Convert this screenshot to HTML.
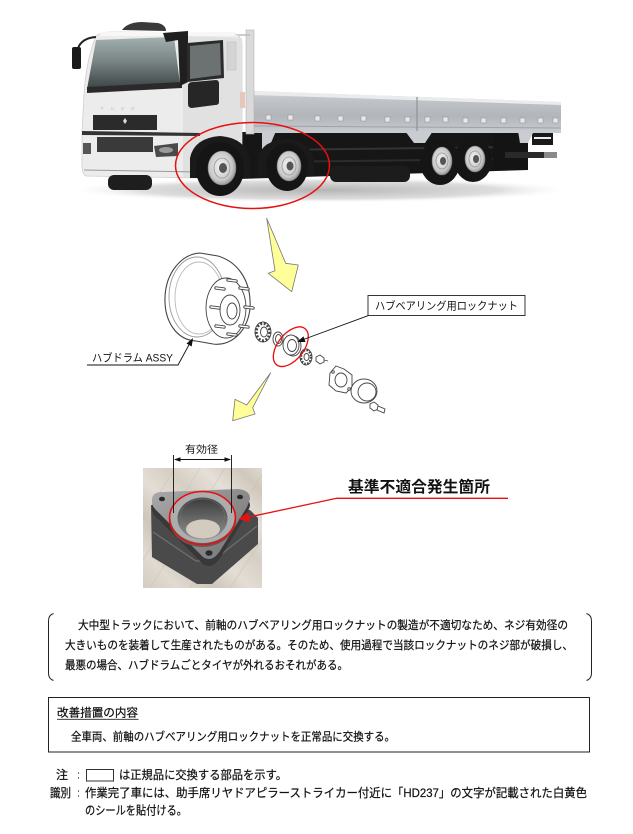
<!DOCTYPE html>
<html><head><meta charset="utf-8"><style>
html,body{margin:0;padding:0;background:#fff;}
svg{display:block;}
text{font-family:"Liberation Sans","Noto Sans CJK JP",sans-serif;fill:#111;}
.b{stroke:#111;stroke-width:0.22;}
</style></head><body>
<svg width="633" height="834" viewBox="0 0 633 834" xmlns="http://www.w3.org/2000/svg">
<defs>
<linearGradient id="ws" x1="0" y1="0" x2="0" y2="1"><stop offset="0" stop-color="#a3b0b0"/><stop offset="0.45" stop-color="#7a8686"/><stop offset="1" stop-color="#3c4344"/></linearGradient>
<linearGradient id="bed" x1="0" y1="0" x2="0" y2="1"><stop offset="0" stop-color="#dfe1e3"/><stop offset="0.15" stop-color="#c3c7cb"/><stop offset="0.6" stop-color="#b2b6ba"/><stop offset="1" stop-color="#c9ccd0"/></linearGradient>
<radialGradient id="rim" cx="0.45" cy="0.45" r="0.6"><stop offset="0" stop-color="#f4f4f4"/><stop offset="0.7" stop-color="#c8c8c8"/><stop offset="1" stop-color="#8a8a8a"/></radialGradient>
<radialGradient id="shd" cx="0.5" cy="0.5" r="0.5"><stop offset="0" stop-color="#b5b5b5"/><stop offset="0.7" stop-color="#dddddd"/><stop offset="1" stop-color="#ffffff" stop-opacity="0"/></radialGradient>
<linearGradient id="wood" x1="0" y1="1" x2="1" y2="0"><stop offset="0" stop-color="#d3ccc1"/><stop offset="0.15" stop-color="#e0dad1"/><stop offset="0.3" stop-color="#cec6ba"/><stop offset="0.45" stop-color="#e3ddd5"/><stop offset="0.6" stop-color="#d6cfc4"/><stop offset="0.75" stop-color="#e5e0d8"/><stop offset="0.9" stop-color="#d0c8bc"/><stop offset="1" stop-color="#dfd9cf"/></linearGradient>
<linearGradient id="plate" x1="0" y1="0" x2="1" y2="1"><stop offset="0" stop-color="#aaaaaa"/><stop offset="0.5" stop-color="#8c8c8c"/><stop offset="1" stop-color="#767676"/></linearGradient>
<linearGradient id="bore" x1="0" y1="0" x2="0" y2="1"><stop offset="0" stop-color="#3a3a3a"/><stop offset="0.6" stop-color="#707070"/><stop offset="1" stop-color="#929292"/></linearGradient>
</defs>
<rect width="633" height="834" fill="#fff"/>

<!-- ================= TRUCK ================= -->
<ellipse cx="320" cy="190" rx="255" ry="13" fill="url(#shd)"/>
<path d="M238,132 L528,132 L528,170 L238,179 Z" fill="#161616"/>
<path d="M262,150 L520,147" stroke="#333" stroke-width="2"/>
<path d="M262,162 L520,159" stroke="#2c2c2c" stroke-width="2"/>
<rect x="330" y="166" width="80" height="16" rx="6" fill="#1c1c1c"/>
<rect x="493" y="132" width="35" height="38" fill="#141414"/>
<rect x="505" y="152" width="52" height="6" fill="#2a2a2a"/>
<rect x="544" y="152" width="13" height="6" fill="#8a8a8a"/>
<rect x="532" y="131" width="21" height="14" fill="#1a1a1a"/>
<rect x="534" y="137" width="17" height="2" fill="#eee"/>
<path d="M254,91 L561,102 L561,133 L254,133 Z" fill="url(#bed)"/>
<path d="M254,91 L561,102 L561,105 L254,95 Z" fill="#e9ebed"/>
<path d="M254,126 L561,128" stroke="#9ea3a7" stroke-width="1"/>
<line x1="417" y1="97" x2="417" y2="133" stroke="#8e9398" stroke-width="1.2"/>
<path d="M405,131 L433,131 L425,143 L414,143 Z" fill="#c9ccd0"/>
<path d="M518,131 L534,131 L528,143 L520,143 Z" fill="#c9ccd0"/>
<path d="M262,131 L276,131 L268,150 L262,150 Z" fill="#c9ccd0"/>
<g fill="#e8e8e8" stroke="#999" stroke-width="0.6">
<rect x="266" y="115" width="5" height="5"/><rect x="288" y="115" width="5" height="5"/><rect x="315" y="116" width="5" height="5"/><rect x="338" y="116" width="5" height="5"/><rect x="361" y="116" width="5" height="5"/><rect x="385" y="117" width="5" height="5"/><rect x="405" y="117" width="5" height="5"/><rect x="425" y="117" width="5" height="5"/><rect x="443" y="117" width="5" height="5"/><rect x="463" y="118" width="5" height="5"/><rect x="481" y="118" width="5" height="5"/><rect x="501" y="118" width="5" height="5"/><rect x="520" y="118" width="5" height="5"/><rect x="538" y="118" width="5" height="5"/><rect x="553" y="118" width="5" height="5"/>
</g>
<rect x="246" y="30" width="8" height="104" fill="#dadada" stroke="#b5b5b5" stroke-width="0.6"/>
<line x1="232" y1="35" x2="250" y2="35" stroke="#bbb" stroke-width="1.5"/>
<path d="M96,36 Q100,32 112,32 L232,33 Q240,34 242,42 L242,176 L200,178 L86,176 Q82,174 82,165 L82,133 L84,95 Q86,60 96,36 Z" fill="#ececec" stroke="#cfcfcf" stroke-width="0.8"/>
<path d="M183,36 L242,38 L242,176 L200,178 L183,177 Z" fill="#e1e1e1"/>
<path d="M122,30 Q128,22 142,22 L158,23 Q166,25 166,31 Z" fill="#3a3a3a"/>
<rect x="100" y="32" width="135" height="4" fill="#f7f7f7"/>
<path d="M96,40 L174,37 L180,84 L87,89 Z" fill="url(#ws)"/>
<path d="M87,87 L182,82 L182,88 L87,93 Z" fill="#2a2a2a"/>
<path d="M163,33 L188,31 L188,82 L180,86 L178,40 L166,42 Z" fill="#1f1f1f"/>
<rect x="72" y="47" width="9" height="22" rx="2" fill="#1a1a1a"/>
<path d="M78,48 Q82,38 96,37" stroke="#222" stroke-width="2" fill="none"/>
<path d="M187,43 L223,40 L224,78 L187,82 Z" fill="#2b2b2b"/>
<path d="M190,46 L220,43 L221,75 L190,79 Z" fill="#6c7272"/>
<path d="M188,86 Q188,82 193,82 L216,80 Q219,80 219,84 L219,102 Q219,105 215,105 L192,108 Q188,108 188,104 Z" fill="#262626"/>
<rect x="227" y="42" width="9" height="28" fill="#d4d4d4" stroke="#bbb" stroke-width="0.5"/>
<rect x="240" y="92" width="5" height="16" fill="#e6c8bb"/>
<text x="101" y="110" font-size="4.5" style="fill:#bbb" letter-spacing="7">FUSO</text>
<rect x="93" y="115" width="64" height="15" fill="#2b2b2b"/>
<path d="M125,118 L127,121 L125,124 L123,121 Z" fill="#ddd"/>
<path d="M82,131 L200,133 L200,136 L82,135 Z" fill="#333"/>
<rect x="97" y="137" width="56" height="15" fill="#3a3a3a"/>
<path d="M154,146 L178,143 L178,156 L156,157 Z" fill="#4a4a4a"/>
<ellipse cx="166" cy="150" rx="7" ry="3" fill="#9a9a9a"/>
<rect x="83" y="143" width="8" height="11" fill="#555"/>
<path d="M84,170 L200,172" stroke="#999" stroke-width="1"/>
<rect x="108" y="175" width="44" height="15" rx="6" fill="#1e1e1e"/>
<path d="M190,178 L190,158 Q194,138 220,136 Q246,138 250,160 L250,178 Z" fill="#1a1a1a"/>
<path d="M258,178 L258,158 Q262,140 287,139 Q310,140 314,160 L314,176 Z" fill="#1a1a1a"/>
<g>
<ellipse cx="220" cy="169" rx="24" ry="27" fill="#151515"/>
<ellipse cx="222" cy="168" rx="14" ry="17" fill="url(#rim)" stroke="#777" stroke-width="0.6"/>
<ellipse cx="222" cy="168" rx="8" ry="10" fill="none" stroke="#999" stroke-width="0.8"/>
<ellipse cx="223" cy="168" rx="4" ry="5" fill="#555"/>
</g>
<g>
<ellipse cx="287" cy="167" rx="21" ry="24" fill="#151515"/>
<ellipse cx="289" cy="166" rx="12" ry="15" fill="url(#rim)" stroke="#777" stroke-width="0.6"/>
<ellipse cx="289" cy="166" rx="7" ry="9" fill="none" stroke="#999" stroke-width="0.8"/>
<ellipse cx="290" cy="166" rx="3.5" ry="4.5" fill="#555"/>
</g>
<g>
<ellipse cx="440" cy="162" rx="20" ry="23" fill="#151515"/>
<ellipse cx="442" cy="161" rx="10" ry="14" fill="url(#rim)" stroke="#777" stroke-width="0.6"/>
<ellipse cx="442" cy="161" rx="6" ry="8" fill="none" stroke="#999" stroke-width="0.8"/>
<ellipse cx="443" cy="161" rx="3" ry="4" fill="#555"/>
</g>
<g>
<ellipse cx="473" cy="160" rx="19" ry="22" fill="#151515"/>
<ellipse cx="475" cy="159" rx="10" ry="13" fill="url(#rim)" stroke="#777" stroke-width="0.6"/>
<ellipse cx="475" cy="159" rx="6" ry="8" fill="none" stroke="#999" stroke-width="0.8"/>
<ellipse cx="476" cy="159" rx="3" ry="4" fill="#555"/>
</g>
<ellipse cx="252.5" cy="165.5" rx="77" ry="43" fill="none" stroke="#e81010" stroke-width="1.5"/>

<!-- ================= ARROW 1 ================= -->
<polygon points="266.7,218.3 285.7,263.3 298.3,265 291.7,291.7 268.3,273.3 275,270.7" fill="#ffff99" stroke="#777" stroke-width="0.8" stroke-linejoin="round"/>

<!-- ================= HUB DRAWING ================= -->
<g stroke="#444" stroke-width="0.9" fill="#fff">
<path d="M200,253 C182,254 166,272 165,297 C164,322 177,340 196,341 L213,344 C235,347 252,325 250,300 C249,280 238,262 218,256 Z" stroke-width="1.1"/>
<ellipse cx="197" cy="297" rx="28" ry="40" fill="none" stroke="#999"/>
<ellipse cx="199" cy="298" rx="24" ry="36" fill="none" stroke="#bbb"/>
<ellipse cx="226" cy="308" rx="20" ry="30"/>
<ellipse cx="230" cy="310" rx="10" ry="15"/>
<ellipse cx="232" cy="311" rx="5" ry="8"/>
</g>
<g stroke-linecap="round">
<g stroke="#444" stroke-width="3.4">
<line x1="245" y1="307" x2="253" y2="308"/><line x1="240" y1="326" x2="248" y2="327"/><line x1="228" y1="334" x2="236" y2="335"/><line x1="216" y1="326" x2="224" y2="327"/><line x1="211" y1="307" x2="219" y2="308"/><line x1="216" y1="288" x2="224" y2="289"/><line x1="228" y1="280" x2="236" y2="281"/><line x1="240" y1="288" x2="248" y2="289"/>
</g>
<g stroke="#fff" stroke-width="1.6">
<line x1="245" y1="307" x2="253" y2="308"/><line x1="240" y1="326" x2="248" y2="327"/><line x1="228" y1="334" x2="236" y2="335"/><line x1="216" y1="326" x2="224" y2="327"/><line x1="211" y1="307" x2="219" y2="308"/><line x1="216" y1="288" x2="224" y2="289"/><line x1="228" y1="280" x2="236" y2="281"/><line x1="240" y1="288" x2="248" y2="289"/>
</g>
</g>
<g stroke="#444" stroke-width="0.9" fill="#fff">
<ellipse cx="263" cy="332" rx="8" ry="10"/>
<ellipse cx="263" cy="332" rx="6.5" ry="8.5" fill="none" stroke-width="2.6" stroke-dasharray="2 1.6"/>
<ellipse cx="264" cy="332" rx="3.5" ry="5"/>
<ellipse cx="278" cy="339" rx="5" ry="7"/>
<ellipse cx="278.5" cy="339" rx="3" ry="4.5"/>
<ellipse cx="293" cy="346" rx="8" ry="10"/>
<ellipse cx="291" cy="345" rx="8" ry="10"/>
<ellipse cx="292" cy="345.5" rx="4.5" ry="6"/>
<ellipse cx="306" cy="357" rx="6" ry="8"/>
<ellipse cx="306" cy="357" rx="5" ry="7" fill="none" stroke-width="2.4" stroke-dasharray="1.8 1.4"/>
<ellipse cx="306.5" cy="357" rx="2.5" ry="3.5"/>
<path d="M316,357 L320,355 L324,358 L324,362 L320,364 L316,361 Z"/>
<line x1="324" y1="360" x2="328" y2="361"/>
<path d="M330,373 L336,366 L344,369 L352,375 L352,387 L346,393 L336,391 L329,385 Z"/>
<ellipse cx="341" cy="380" rx="6" ry="7"/>
<circle cx="333" cy="372" r="1.3"/><circle cx="349" cy="389" r="1.3"/>
<ellipse cx="364" cy="391" rx="13" ry="12"/>
<ellipse cx="367" cy="392" rx="9" ry="9"/>
<path d="M370,404 L374,402 L378,405 L378,409 L374,411 L370,408 Z"/>
<path d="M378,406 L385,409 L384,413 L377,410 Z"/>
</g>
<ellipse cx="290.8" cy="346.7" rx="13" ry="23" transform="rotate(38 290.8 346.7)" fill="none" stroke="#e81010" stroke-width="1.3"/>
<rect x="368" y="295.5" width="157" height="20" fill="#fff" stroke="#222" stroke-width="0.9"/>
<text x="375" y="309.7" font-size="11" textLength="143" lengthAdjust="spacingAndGlyphs">ハブベアリング用ロックナット</text>
<line x1="368" y1="315.7" x2="302" y2="340" stroke="#111" stroke-width="0.9"/>
<polygon points="297,342 305.5,342 303.5,336.4" fill="#111"/>
<text x="92" y="361.7" font-size="11" textLength="81" lengthAdjust="spacingAndGlyphs">ハブドラム ASSY</text>
<polyline points="87,365 178,365 190,343" fill="none" stroke="#111" stroke-width="0.9"/>
<polygon points="193,338 191.7,346.5 186.5,343.5" fill="#111"/>

<!-- ================= ARROW 2 ================= -->
<polygon points="270.7,372.7 252.7,407.7 255,414 232.7,420.7 235,399.3 246.7,405" fill="#ffff99" stroke="#777" stroke-width="0.8" stroke-linejoin="round"/>

<!-- ================= PHOTO ================= -->
<rect x="143" y="468" width="119" height="120" fill="url(#wood)"/>
<g stroke="#c8bfb3" stroke-width="0.7" opacity="0.7">
<line x1="143" y1="560" x2="200" y2="468"/><line x1="150" y1="588" x2="225" y2="468"/><line x1="190" y1="588" x2="262" y2="475"/><line x1="230" y1="588" x2="262" y2="540"/><line x1="143" y1="520" x2="175" y2="468"/>
</g>
<polygon points="151,505 152,557 197,584 212,584 258,544 258,518 250,510" fill="#4a4a4a"/>
<path d="M153,532 L196,561 L213,561 L257,526" fill="none" stroke="#707070" stroke-width="1.2"/>
<path d="M152,507 Q152,499 162,499 L238,496 Q250,497 250,506 L247,514 L220,558 Q212,570 203,564 L158,519 Q151,513 152,507 Z" fill="#383838"/>
<path d="M152,500 Q152,492 162,492 L238,489 Q250,490 250,499 L247,507 L220,551 Q212,563 203,557 L158,512 Q151,506 152,500 Z" fill="url(#plate)"/>
<ellipse cx="162" cy="499" rx="3" ry="2.3" fill="#2a2a2a"/>
<ellipse cx="240" cy="497" rx="3" ry="2.3" fill="#2a2a2a"/>
<ellipse cx="209" cy="553" rx="3.5" ry="2.8" fill="#2a2a2a"/>
<ellipse cx="202.5" cy="521" rx="32.5" ry="26" fill="#5e5e5e"/>
<ellipse cx="202.5" cy="517.5" rx="32" ry="25.5" fill="#adadad"/>
<ellipse cx="202.5" cy="518.5" rx="25" ry="21" fill="url(#bore)"/>
<ellipse cx="202.5" cy="516" rx="22" ry="17" fill="none" stroke="#777" stroke-width="0.5"/>
<ellipse cx="202.5" cy="513" rx="22" ry="15" fill="none" stroke="#666" stroke-width="0.5"/>
<ellipse cx="203" cy="529" rx="17" ry="9.5" fill="#d3cbbf"/>
<ellipse cx="202.5" cy="518" rx="33" ry="26.5" fill="none" stroke="#e81010" stroke-width="1.6"/>
<line x1="173.5" y1="455" x2="173.5" y2="513" stroke="#111" stroke-width="0.9"/>
<line x1="231.5" y1="455" x2="231.5" y2="513" stroke="#111" stroke-width="0.9"/>
<line x1="175" y1="459.5" x2="230" y2="459.5" stroke="#111" stroke-width="0.9"/>
<polygon points="174,459.5 180.5,457.3 180.5,461.7" fill="#111"/>
<polygon points="231,459.5 224.5,457.3 224.5,461.7" fill="#111"/>
<text x="185" y="452.8" font-size="10" textLength="33" lengthAdjust="spacingAndGlyphs">有効径</text>
<text x="348" y="491.9" font-size="15.5" font-weight="bold" textLength="142" lengthAdjust="spacingAndGlyphs">基準不適合発生箇所</text>
<polyline points="508,498.3 336.7,498.3 248,517.2" fill="none" stroke="#e81010" stroke-width="1.3"/>
<polygon points="238.3,519.3 250.1,521.9 248.1,512.1" fill="#e81010"/>

<!-- ================= DESCRIPTION ================= -->
<path d="M53.5,613.5 Q48.5,615 48.5,621 L48.5,673 Q48.5,679 53.5,680.5" fill="none" stroke="#222" stroke-width="1"/>
<path d="M586.5,613.5 Q591.5,615 591.5,621 L591.5,673 Q591.5,679 586.5,680.5" fill="none" stroke="#222" stroke-width="1"/>
<text class="b" x="78" y="629" font-size="11.5" textLength="490" lengthAdjust="spacingAndGlyphs">大中型トラックにおいて、前軸のハブベアリング用ロックナットの製造が不適切なため、ネジ有効径の</text>
<text class="b" x="65" y="649" font-size="11.5" textLength="508" lengthAdjust="spacingAndGlyphs">大きいものを装着して生産されたものがある。そのため、使用過程で当該ロックナットのネジ部が破損し、</text>
<text class="b" x="65" y="669" font-size="11.5" textLength="283" lengthAdjust="spacingAndGlyphs">最悪の場合、ハブドラムごとタイヤが外れるおそれがある。</text>

<rect x="48.5" y="697.5" width="541" height="54.5" fill="none" stroke="#222" stroke-width="1"/>
<text class="b" x="57" y="716.5" font-size="11.5" textLength="81" lengthAdjust="spacingAndGlyphs">改善措置の内容</text>
<line x1="57" y1="719.3" x2="138.5" y2="719.3" stroke="#222" stroke-width="0.9"/>
<text class="b" x="71" y="740.5" font-size="11.5" textLength="324" lengthAdjust="spacingAndGlyphs">全車両、前軸のハブベアリング用ロックナットを正常品に交換する。</text>

<text class="b" x="56" y="779" font-size="12">注</text>
<text x="77" y="778.5" font-size="11">:</text>
<rect x="86.5" y="769.5" width="27" height="11.5" fill="none" stroke="#333" stroke-width="1"/>
<text class="b" x="119" y="779" font-size="12" textLength="168" lengthAdjust="spacingAndGlyphs">は正規品に交換する部品を示す。</text>
<text class="b" x="50" y="797" font-size="12" textLength="21" lengthAdjust="spacingAndGlyphs">識別</text>
<text x="77" y="796.5" font-size="11">:</text>
<text class="b" x="85" y="797" font-size="12" textLength="502" lengthAdjust="spacingAndGlyphs">作業完了車には、助手席リヤドアピラーストライカー付近に「HD237」の文字が記載された白黄色</text>
<text class="b" x="85" y="814.5" font-size="12" textLength="102" lengthAdjust="spacingAndGlyphs">のシールを貼付ける。</text>
</svg>
</body></html>
